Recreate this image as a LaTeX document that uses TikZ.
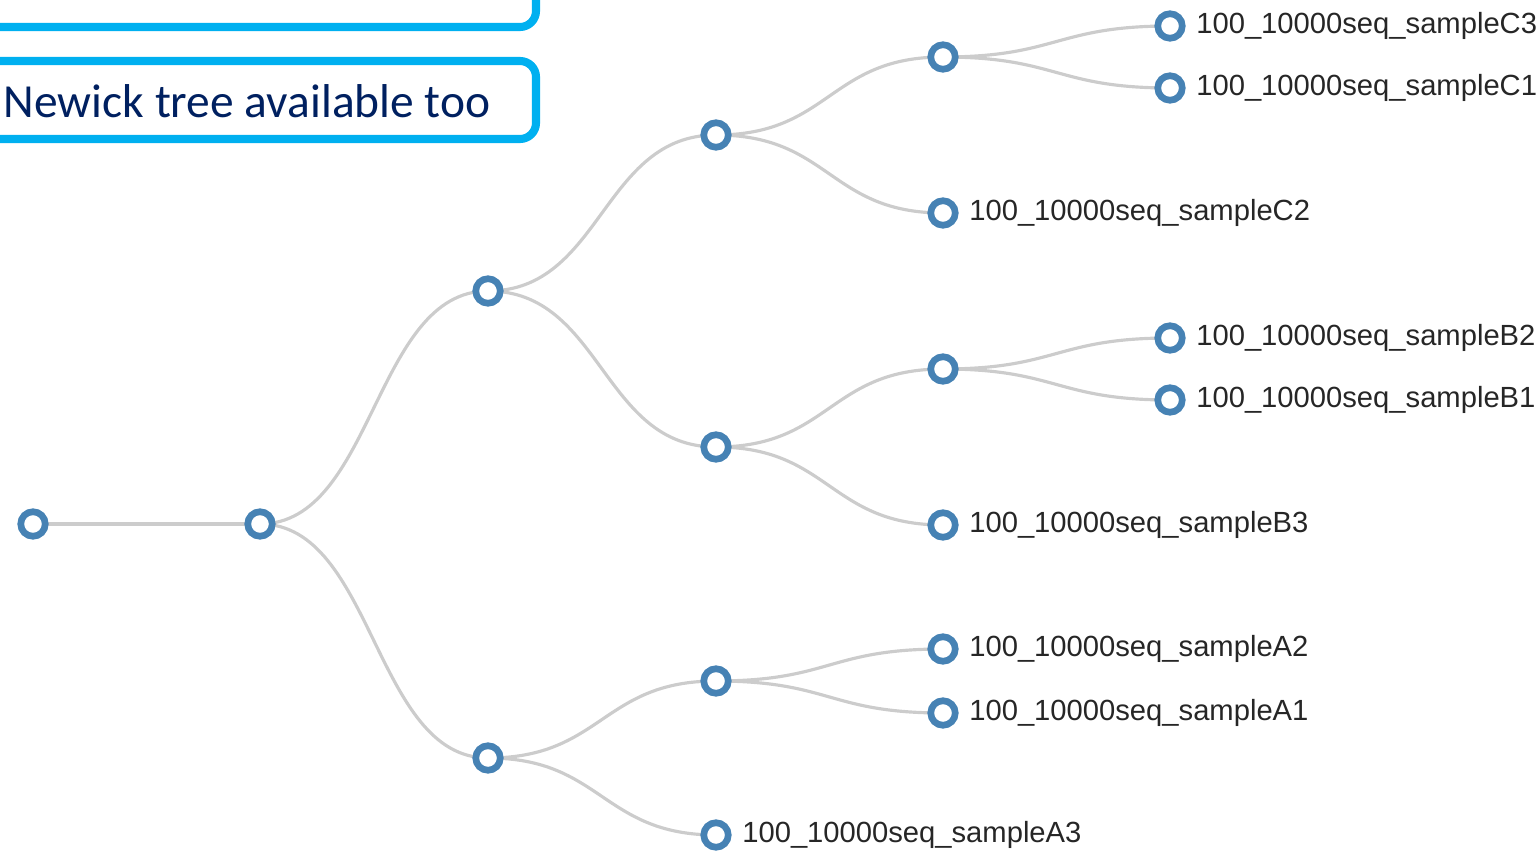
\documentclass[tikz,border=0pt]{standalone}
\usepackage{fontspec}
\newfontfamily\leaffont{Liberation Sans}
\newfontfamily\notefont{Carlito}
\usetikzlibrary{calc,backgrounds}
\definecolor{nodeblue}{HTML}{4682B4}
\definecolor{linkgray}{HTML}{CCCCCC}
\definecolor{boxcyan}{HTML}{00B0F0}
\definecolor{notenavy}{HTML}{002060}

\begin{document}
\begin{tikzpicture}[x=0.01cm,y=-0.01cm,
  dot/.style={circle,draw=nodeblue,fill=white,line width=1.9pt,minimum size=0.245cm,inner sep=0pt},
  link/.style={draw=linkgray,line width=0.9pt},
  leaflabel/.style={anchor=west,inner sep=0pt,font=\leaffont\fontsize{8.3pt}{10pt}\selectfont,text=black!85},
  notebox/.style={draw=boxcyan,line width=2.3pt,rounded corners=0.16cm}]

\useasboundingbox (0,0) rectangle (1539,855);
\clip (0,0) rectangle (1539,855);

% ---- the two call-out boxes, cut by the top and left edges ----
\draw[notebox] (-40,-60) rectangle (536,27);
\draw[notebox] (-40,61) rectangle (536,139);
\node[anchor=west,inner sep=0pt,text=notenavy,font=\notefont\fontsize{13.5pt}{16pt}\selectfont] (note) at (3,101) {Newick tree available too};

% ---- inner nodes of the tree ----
\foreach \nm/\x/\y in {root/33/524, n1/260/524, n2/488/291, n3/488/758,
                       n4/716/135, n5/716/447, n6/716/681,
                       n7/943/57, n8/943/369}{
  \node[dot] (\nm) at (\x,\y) {};}

% ---- leaves with their sample names ----
\foreach \nm/\x/\y in {C3/1170/26, C1/1170/88, C2/943/213,
                       B2/1170/338, B1/1170/400, B3/943/525,
                       A2/943/649, A1/943/713, A3/716/835}{
  \node[dot] (\nm) at (\x,\y) {};
  \node[leaflabel] (lab\nm) at ([xshift=0.1cm]\nm.east) {100\_10000seq\_sample\nm};}

% ---- links: smooth elbows between parent and child ----
\begin{scope}[on background layer]
\foreach \a/\b in {root/n1, n1/n2, n1/n3, n2/n4, n2/n5, n3/n6, n3/A3,
                   n4/n7, n4/C2, n7/C3, n7/C1, n5/n8, n5/B3, n8/B2, n8/B1,
                   n6/A2, n6/A1}{
  \draw[link] (\a.center) .. controls ($(\a.center)+(114,0)$) and ($(\b.center)+(-114,0)$) .. (\b.center);}
\end{scope}

\end{tikzpicture}
\end{document}
